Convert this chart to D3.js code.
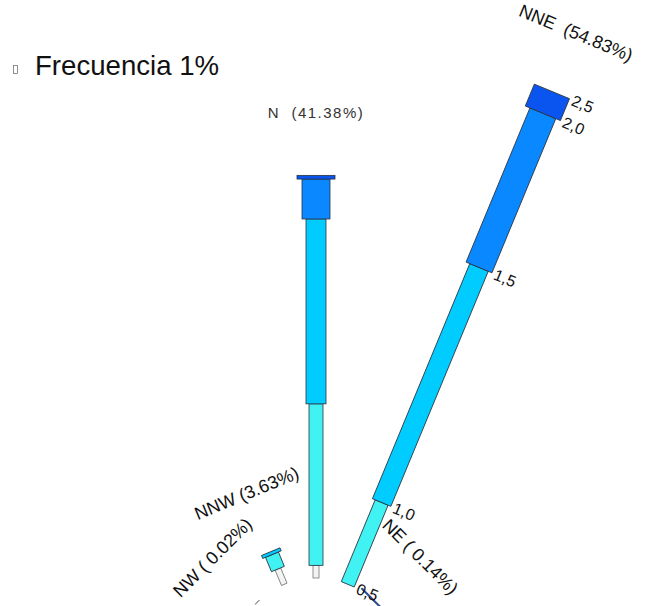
<!DOCTYPE html>
<html>
<head>
<meta charset="utf-8">
<script src="https://cdn.jsdelivr.net/npm/d3@7"></script>
<style>
  body { margin: 0; background: #fff; }
  text { font-family: "Liberation Sans", Arial, sans-serif; white-space: pre; }
</style>
</head>
<body>
<svg id="rose" width="645" height="606"></svg>
<script>
// sectors (clockwise from north)
var directions = ["N", "NNE", "NE", "ENE", "E", "ESE", "SE", "SSE",
  "S", "SSW", "SW", "WSW", "W", "WNW", "NW", "NNW"];

// frequency (%) per speed class, one value per direction
var cls1 = [1.30, 0.00, 0, 0, 0, 0, 0, 0, 0, 0, 0, 0, 0, 0, 0.02, 1.70];
var cls2 = [16.60, 9.10, 0, 0, 0, 0, 0, 0, 0, 0, 0, 0, 0, 0, 0, 1.60];
var cls3 = [19.00, 26.15, 0, 0, 0, 0, 0, 0, 0, 0, 0, 0, 0, 0, 0, 0.33];
var cls4 = [4.10, 17.15, 0, 0, 0, 0, 0, 0, 0, 0, 0, 0, 0, 0, 0, 0];
var cls5 = [0.38, 2.43, 0.14, 0, 0, 0, 0, 0, 0, 0, 0, 0, 0, 0, 0, 0];

// direction labels as printed
var dirLabels = ["N  (41.38%)", "NNE  (54.83%)", "NE ( 0.14%)", "", "", "", "", "",
  "", "", "", "", "", "", "NW ( 0.02%)", "NNW (3.63%)"];

// speed class limits
var speedLabels = ["0,5", "1,0", "1,5", "2,0", "2,5"];

// style
var classColors = ["#f2f4f4", "#40f2f2", "#00ccff", "#0a88ff", "#0a55f0"],
  classWidths = [6, 14, 20, 28, 38],
  cx = 316,
  cy = 661,
  innerR = 83,
  pxPerPct = 9.73;

var svg = d3.select("#rose");

var r = d3.scaleLinear()
  .domain([0, 60])
  .range([innerR, innerR + 60 * pxPerPct]);

var angle = d3.scaleLinear()
  .domain([0, directions.length])
  .range([0, 360]);

var classes = [cls1, cls2, cls3, cls4, cls5];

// stack the classes per direction
var rows = directions.map(function(d, i) {
  var acc = 0;
  var segs = classes.map(function(c, k) {
    var s = { k: k, y0: acc, y1: acc + c[i] };
    acc += c[i];
    return s;
  });
  return { dir: d, i: i, total: acc, segs: segs, label: dirLabels[i] };
});

var rose = svg.append("g")
  .attr("transform", "translate(" + cx + "," + cy + ")");

var sectors = rose.selectAll(".sector")
  .data(rows.filter(function(d) { return d.total > 0; }))
  .enter().append("g")
    .attr("class", "sector")
    .attr("transform", function(d) { return "rotate(" + angle(d.i) + ")"; });

sectors.selectAll("rect")
  .data(function(d) { return d.segs.filter(function(s) { return s.y1 > s.y0; }); })
  .enter().append("rect")
    .attr("x", function(s) { return -classWidths[s.k] / 2; })
    .attr("y", function(s) { return -r(s.y1); })
    .attr("width", function(s) { return classWidths[s.k]; })
    .attr("height", function(s) { return r(s.y1) - r(s.y0); })
    .style("fill", function(s) { return classColors[s.k]; })
    .style("stroke", function(s) { return s.k === 0 ? "#777" : "#2a3340"; })
    .style("stroke-width", 0.8);

// direction labels
sectors.append("text")
  .attr("x", 0)
  .attr("y", function(d) { return -(r(d.total) + 63); })
  .attr("text-anchor", "middle")
  .attr("dominant-baseline", "central")
  .style("font-size", function(d) { return d.dir === "N" ? "15px" : "18px"; })
  .style("letter-spacing", function(d) { return d.dir === "N" ? "1.5px" : "0px"; })
  .style("fill", function(d) { return d.dir === "N" ? "#333" : "#111"; })
  .text(function(d) { return d.label; });

// speed limits along the longest bar
var longest = rows.reduce(function(a, b) { return b.total > a.total ? b : a; });
var lim = rose.append("g")
  .attr("transform", "rotate(" + angle(longest.i) + ")");

lim.selectAll("text")
  .data(speedLabels)
  .enter().append("text")
    .attr("x", function(d, k) { return classWidths[Math.min(k + 1, 4)] / 2 + 3; })
    .attr("y", function(d, k) { return -r(longest.segs[k].y1); })
    .attr("dominant-baseline", "central")
    .style("font-size", "16px")
    .style("fill", "#111")
    .text(function(d) { return d; });

// title
svg.append("rect")
  .attr("x", 13.5).attr("y", 65.5)
  .attr("width", 4).attr("height", 8)
  .style("fill", "none")
  .style("stroke", "#777")
  .style("stroke-width", 0.8);

svg.append("text")
  .attr("x", 35)
  .attr("y", 75)
  .style("font-size", "27.6px")
  .style("fill", "#111")
  .text("Frecuencia 1%");
</script>
</body>
</html>
